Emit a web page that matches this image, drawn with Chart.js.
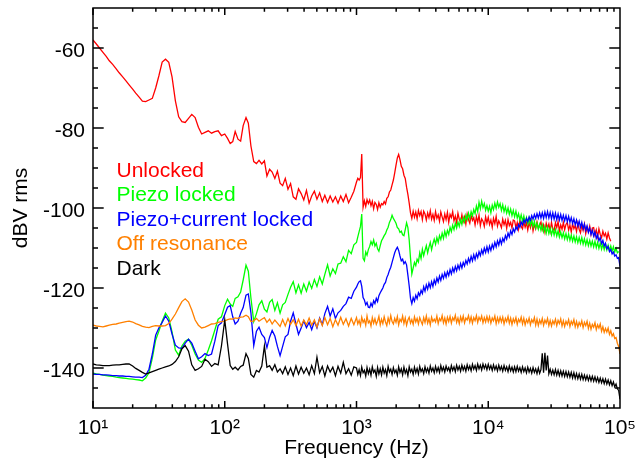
<!DOCTYPE html>
<html><head><meta charset="utf-8">
<script src="https://cdn.jsdelivr.net/npm/chart.js@4.4.1/dist/chart.umd.min.js"></script>
<style>html,body{margin:0;padding:0;background:#fff}canvas{display:block}</style>
</head><body>
<canvas id="c" width="637" height="464"></canvas>
<script>
// Frequency grid (Hz): 10-100 Hz, 100-1000 Hz, 1-100 kHz
const freqHz = [
  10, 10.6, 11.2, 11.9, 12.6, 13.3, 14.1, 15, 15.8, 16.8,
  17.8, 18.8, 20, 21.1, 22.4, 23.7, 25.1, 26.6, 28.2, 29.9,
  31.6, 33.5, 35.5, 37.6, 39.8, 42.2, 44.7, 47.3, 50.1, 53.1,
  56.2, 59.6, 63.1, 66.8, 70.8, 75, 79.4, 84.1, 89.1, 94.4,
  100, 105, 110, 115, 120, 126, 132, 138, 145, 151,
  158, 166, 174, 182, 191, 200, 209, 219, 229, 240,
  251, 263, 275, 288, 302, 316, 331, 347, 363, 380,
  398, 417, 437, 457, 479, 501, 525, 550, 575, 603,
  631, 661, 692, 724, 759, 794, 832, 871, 912, 955,
  1000, 1023, 1047, 1072, 1096, 1122, 1148, 1175, 1202, 1230,
  1259, 1288, 1318, 1349, 1380, 1413, 1445, 1479, 1514, 1549,
  1585, 1622, 1660, 1698, 1738, 1778, 1820, 1862, 1905, 1950,
  1995, 2042, 2089, 2138, 2188, 2239, 2291, 2344, 2399, 2455,
  2512, 2570, 2630, 2692, 2754, 2818, 2884, 2951, 3020, 3090,
  3162, 3236, 3311, 3388, 3467, 3548, 3631, 3715, 3802, 3890,
  3981, 4074, 4169, 4266, 4365, 4467, 4571, 4677, 4786, 4898,
  5012, 5129, 5248, 5370, 5495, 5623, 5754, 5888, 6026, 6166,
  6310, 6457, 6607, 6761, 6918, 7079, 7244, 7413, 7586, 7762,
  7943, 8128, 8318, 8511, 8710, 8913, 9120, 9333, 9550, 9772,
  10000, 10230, 10470, 10720, 10960, 11220, 11480, 11750, 12020, 12300,
  12590, 12880, 13180, 13490, 13800, 14130, 14450, 14790, 15140, 15490,
  15850, 16220, 16600, 16980, 17380, 17780, 18200, 18620, 19050, 19500,
  19950, 20420, 20890, 21380, 21880, 22390, 22910, 23440, 23990, 24550,
  25120, 25700, 26300, 26920, 27540, 28180, 28840, 29510, 30200, 30900,
  31620, 32360, 33110, 33880, 34670, 35480, 36310, 37150, 38020, 38900,
  39810, 40740, 41690, 42660, 43650, 44670, 45710, 46770, 47860, 48980,
  50120, 51290, 52480, 53700, 54950, 56230, 57540, 58880, 60260, 61660,
  63100, 64570, 66070, 67610, 69180, 70790, 72440, 74130, 75860, 77620,
  79430, 81280, 83180, 85110, 87100, 89130, 91200, 93330, 95500, 97720,
  100000
];

const unlockedDb = [
  -58.0, -59.0, -60.0, -61.1, -62.1, -63.2, -64.1, -65.2, -66.2, -67.2,
  -68.2, -69.2, -70.3, -71.3, -72.3, -73.3, -73.4, -73.0, -72.6, -70.0,
  -67.0, -63.5, -62.8, -63.6, -67.2, -73.2, -77.2, -78.4, -78.6, -77.6,
  -76.6, -77.4, -79.8, -81.5, -81.1, -80.7, -81.3, -80.9, -80.7, -81.9,
  -81.5, -82.6, -83.9, -83.4, -80.9, -82.8, -83.3, -79.4, -77.4, -78.8,
  -84.5, -88.4, -88.9, -88.1, -89.0, -88.2, -92.0, -90.3, -91.0, -92.6,
  -90.8, -93.8, -94.4, -92.6, -95.3, -93.9, -97.2, -97.8, -95.2, -96.4,
  -98.0, -95.6, -98.8, -97.0, -95.8, -97.8, -96.2, -98.4, -96.8, -98.6,
  -97.0, -98.5, -97.2, -98.8, -97.0, -98.4, -96.6, -98.7, -97.3, -95.8,
  -93.5, -92.6, -93.0, -92.4, -86.5, -99.8, -98.2, -99.6, -97.9, -98.9,
  -98.0, -99.4, -98.3, -100.2, -98.6, -99.1, -100.4, -98.7, -99.8, -98.9,
  -99.2, -98.4, -99.0, -97.6, -97.2, -96.0, -95.5, -94.2, -93.0, -91.2,
  -89.3, -87.5, -86.6, -87.9, -89.6, -90.2, -91.8, -92.6, -94.8, -96.6,
  -98.8, -101.2, -102.6, -100.8, -102.3, -101.0, -102.7, -100.6, -101.9, -100.9,
  -102.9, -100.8, -101.5, -103.0, -101.2, -102.4, -100.7, -102.8, -101.6, -103.1,
  -100.9, -102.6, -101.7, -103.3, -101.0, -102.2, -103.4, -101.5, -102.9, -101.1,
  -103.6, -101.6, -102.4, -100.9, -103.2, -102.0, -103.7, -101.3, -102.8, -103.5,
  -101.7, -103.4, -102.2, -104.0, -101.5, -102.9, -103.8, -101.9, -103.1, -102.4,
  -104.2, -102.1, -103.6, -101.8, -104.4, -102.7, -103.3, -104.6, -102.2, -103.8,
  -102.3, -104.1, -103.0, -104.8, -102.6, -103.9, -102.1, -104.5, -103.2, -104.0,
  -104.9, -102.8, -104.2, -103.1, -105.1, -102.9, -104.4, -103.6, -105.0, -103.0,
  -103.2, -104.9, -103.6, -105.3, -103.0, -104.6, -105.2, -103.4, -104.8, -103.7,
  -105.5, -103.6, -104.9, -103.3, -105.7, -104.1, -105.2, -103.5, -105.0, -104.3,
  -103.5, -105.4, -104.2, -106.0, -103.8, -105.1, -104.0, -105.8, -103.6, -105.2,
  -105.6, -103.7, -104.9, -103.4, -105.7, -104.2, -105.3, -103.6, -105.4, -104.1,
  -103.6, -105.5, -104.3, -106.0, -103.9, -105.2, -104.4, -105.9, -103.8, -105.3,
  -106.2, -104.3, -105.6, -104.0, -106.4, -104.8, -105.9, -104.5, -106.6, -105.0,
  -104.9, -106.8, -105.5, -107.2, -105.2, -106.6, -107.4, -105.8, -107.0, -106.3,
  -107.8, -106.2, -107.5, -108.3, null, null, null, null, null, null,
  null
];

const piezoDb = [
  -141.3, -141.5, -141.6, -141.8, -141.9, -142.0, -142.1, -142.3, -142.4, -142.5,
  -142.6, -142.7, -142.8, -142.9, -143.0, -143.2, -142.5, -141.2, -137.5, -133.0,
  -130.8, -128.3, -126.3, -127.5, -131.0, -135.5, -136.8, -134.5, -133.3, -132.8,
  -134.3, -136.5, -138.0, -138.6, -137.6, -135.5, -133.2, -130.5, -127.8, -127.2,
  -124.4, -122.8, -124.0, -124.6, -122.6, -122.2, -121.0, -118.0, -114.3, -115.8,
  -122.5, -128.4, -126.4, -124.2, -123.2, -125.3, -126.0, -123.6, -122.9, -125.6,
  -123.7, -126.3, -124.2, -123.6, -121.6, -119.8, -118.4, -121.2, -119.2, -121.3,
  -119.0, -120.8, -118.5, -120.1, -117.9, -119.6, -117.2, -119.0, -116.6, -114.2,
  -117.0, -115.2, -116.4, -114.0, -113.8, -112.2, -113.4, -110.6, -111.4, -109.2,
  -108.6, -107.2, -105.9, -104.6, -101.5, -112.6, -113.2, -111.0, -111.8, -110.4,
  -109.6, -108.4, -109.2, -108.0, -109.5, -108.8, -110.2, -110.8, -109.4, -108.2,
  -107.6, -106.9, -106.4, -105.5, -104.8, -103.6, -102.9, -101.8, -102.6, -103.2,
  -103.8, -104.9, -105.2, -106.1, -105.8, -106.7, -106.9, -105.4, -103.7, -104.9,
  -108.0, -112.5, -116.5, -115.0, -113.6, -114.4, -112.8, -113.5, -111.2, -112.6,
  -110.3, -111.9, -110.6, -109.4, -111.2, -109.8, -108.6, -110.4, -108.9, -107.8,
  -109.1, -107.4, -108.6, -106.9, -107.9, -106.3, -107.6, -105.8, -107.1, -105.6,
  -106.6, -104.8, -105.9, -104.3, -105.4, -103.8, -105.0, -103.5, -104.6, -102.9,
  -104.1, -102.4, -103.5, -101.8, -102.9, -101.3, -102.6, -100.9, -102.0, -100.4,
  -101.4, -99.5, -100.9, -98.6, -100.2, -98.3, -99.9, -98.9, -100.6, -99.4,
  -100.8, -99.6, -101.2, -99.3, -100.4, -98.8, -100.1, -98.5, -99.8, -98.9,
  -100.6, -99.2, -100.9, -99.7, -101.3, -100.0, -101.6, -100.3, -101.9, -100.6,
  -102.2, -100.8, -102.5, -101.4, -103.0, -101.7, -103.3, -102.0, -103.6, -102.4,
  -104.0, -102.6, -104.3, -103.1, -104.7, -103.3, -105.0, -103.8, -105.3, -104.1,
  -105.6, -104.2, -105.9, -104.6, -106.3, -104.8, -106.4, -105.1, -106.7, -105.3,
  -106.8, -105.4, -107.0, -105.7, -107.3, -106.0, -107.4, -106.2, -107.7, -106.4,
  -107.9, -106.5, -108.1, -106.8, -108.3, -107.0, -108.5, -107.2, -108.7, -107.4,
  -108.8, -107.4, -109.0, -107.7, -109.2, -107.9, -109.4, -108.1, -109.5, -108.3,
  -109.7, -108.3, -109.9, -108.6, -110.1, -108.8, -110.3, -109.0, -110.4, -109.2,
  -110.5, -109.3, -110.6, -109.5, -110.8, -109.7, -111.0, -110.1, -111.2, -110.9,
  null
];

const piezoCurrentDb = [
  -141.5, -141.6, -141.6, -141.7, -141.7, -141.8, -141.9, -141.9, -142.0, -142.0,
  -142.1, -142.1, -142.2, -142.3, -142.3, -142.4, -141.8, -140.3, -136.5, -131.8,
  -130.0, -128.6, -127.0, -128.3, -131.5, -134.3, -135.0, -135.1, -133.8, -132.8,
  -133.8, -135.8, -137.7, -137.2, -136.4, -136.9, -136.5, -133.3, -129.4, -128.7,
  -126.6, -124.8, -124.4, -127.2, -129.0, -128.3, -126.3, -124.9, -121.8, -121.5,
  -126.2, -134.4, -130.8, -129.8, -131.6, -132.4, -134.9, -132.3, -130.6, -132.0,
  -134.6, -136.9, -134.6, -132.2, -131.6, -128.3, -126.2, -129.0, -131.6, -130.0,
  -128.2, -129.9, -128.6, -130.4, -128.3, -130.0, -127.5, -129.2, -126.4, -124.6,
  -127.0, -125.2, -127.6, -126.2, -125.6, -124.6, -123.9, -122.3, -122.6, -120.8,
  -119.8, -119.0, -118.4, -118.2, -119.6, -122.4, -123.0, -124.2, -123.6, -124.8,
  -124.9, -123.8, -124.6, -123.2, -123.9, -122.6, -123.4, -121.9, -121.2, -120.6,
  -120.0, -119.1, -118.6, -117.4, -116.6, -115.6, -114.8, -113.6, -112.4, -111.2,
  -110.4, -109.8, -110.6, -112.0, -113.2, -112.8, -113.9, -113.4, -114.2, -116.8,
  -119.5, -122.6, -123.9, -122.4, -123.3, -121.8, -122.7, -121.2, -121.9, -120.6,
  -121.4, -119.7, -120.8, -119.2, -120.3, -118.8, -119.9, -118.4, -119.6, -118.0,
  -119.0, -117.5, -118.5, -117.0, -118.1, -116.6, -117.6, -116.2, -117.3, -115.9,
  -116.9, -115.4, -116.5, -115.0, -116.0, -114.6, -115.7, -114.3, -115.3, -113.9,
  -115.0, -113.6, -114.5, -113.1, -114.0, -112.6, -113.6, -112.1, -113.2, -111.7,
  -112.9, -111.4, -112.4, -110.9, -111.9, -110.5, -111.5, -110.0, -111.1, -109.7,
  -111.0, -109.5, -110.6, -109.1, -110.1, -108.6, -109.7, -108.2, -109.3, -107.8,
  -109.0, -107.6, -108.4, -106.9, -107.8, -106.3, -107.2, -105.7, -106.6, -105.2,
  -106.0, -104.7, -105.4, -104.1, -104.8, -103.5, -104.2, -103.0, -103.7, -102.6,
  -103.4, -102.2, -103.1, -101.9, -102.8, -101.6, -102.6, -101.4, -102.5, -101.2,
  -102.5, -101.2, -102.6, -101.0, -102.4, -100.9, -102.5, -101.1, -102.7, -101.2,
  -102.8, -101.3, -102.9, -101.5, -103.0, -101.6, -103.1, -101.8, -103.2, -101.9,
  -103.4, -102.1, -103.6, -102.4, -103.9, -102.7, -104.2, -103.0, -104.5, -103.3,
  -104.8, -103.6, -105.2, -104.0, -105.6, -104.5, -106.1, -105.0, -106.6, -105.6,
  -107.0, -106.0, -107.6, -106.7, -108.2, -107.4, -108.9, -108.1, -109.5, -108.8,
  -110.2, -109.6, -110.9, -110.4, -111.5, -111.0, -112.0, -111.7, -112.6, -112.4,
  -114.6
];

const offResonanceDb = [
  -129.3, -129.5, -129.6, -129.7, -129.5, -129.3, -129.1, -129.0, -128.8, -128.6,
  -128.4, -128.3, -128.5, -128.9, -129.2, -129.6, -129.8, -129.9, -129.6, -129.4,
  -129.5, -129.5, -129.4, -128.9, -127.8, -126.5, -124.9, -123.4, -122.7, -123.5,
  -125.5, -128.0, -129.3, -130.0, -129.8, -129.4, -129.0, -128.9, -128.6, -128.4,
  -128.2, -127.9, -127.7, -127.8, -127.5, -127.6, -127.3, -127.2, -126.8, -127.2,
  -128.4, -128.2, -127.6, -128.3, -127.8, -127.4, -128.6, -127.8, -129.0, -128.0,
  -128.8, -129.6, -127.9, -129.5, -127.6, -129.1, -127.9, -129.4, -127.8, -129.5,
  -128.0, -129.2, -127.5, -129.3, -128.0, -129.8, -127.7, -129.4, -127.4, -129.2,
  -127.6, -129.7, -127.9, -129.3, -127.3, -129.1, -127.7, -129.5, -127.6, -129.2,
  -127.4, -129.0, -128.1, -129.4, -127.3, -128.6, -127.9, -129.3, -127.0, -128.7,
  -128.2, -129.5, -127.4, -128.8, -127.7, -129.1, -128.3, -127.1, -129.2, -127.8,
  -128.9, -127.2, -128.5, -129.4, -127.5, -128.7, -126.9, -128.4, -129.0, -127.6,
  -128.6, -127.1, -129.2, -127.8, -128.4, -127.0, -128.9, -127.5, -129.3, -128.0,
  -127.3, -128.8, -127.9, -129.1, -127.2, -128.5, -127.6, -129.0, -127.4, -128.3,
  -129.1, -127.4, -128.6, -127.0, -128.8, -127.7, -129.2, -127.3, -128.4, -127.8,
  -128.5, -127.0, -128.9, -127.6, -128.2, -126.9, -128.7, -127.5, -129.0, -127.3,
  -128.4, -127.1, -128.8, -127.4, -128.1, -126.8, -128.6, -127.5, -128.9, -127.2,
  -128.3, -127.0, -128.7, -127.5, -128.0, -126.9, -128.5, -127.2, -128.8, -127.4,
  -128.2, -126.9, -128.6, -127.3, -128.1, -127.0, -128.7, -127.4, -128.5, -127.1,
  -128.4, -127.2, -128.8, -127.5, -128.2, -127.0, -128.9, -127.4, -128.6, -127.3,
  -128.5, -127.3, -129.0, -127.6, -128.4, -127.1, -128.8, -127.5, -129.1, -127.7,
  -128.6, -127.4, -129.1, -127.8, -128.5, -127.3, -129.0, -127.6, -129.2, -127.9,
  -128.7, -127.5, -129.2, -127.9, -128.6, -127.4, -129.3, -127.8, -129.4, -128.0,
  -128.9, -127.6, -129.3, -128.0, -128.8, -127.6, -129.4, -128.1, -129.5, -128.2,
  -129.0, -127.8, -129.4, -128.1, -128.9, -127.7, -129.5, -128.2, -129.6, -128.3,
  -129.1, -127.9, -129.6, -128.3, -129.1, -127.9, -129.7, -128.4, -129.8, -128.6,
  -129.4, -128.2, -129.9, -128.6, -129.4, -128.3, -130.1, -128.8, -130.3, -129.1,
  -129.8, -128.7, -130.4, -129.2, -130.0, -129.0, -130.8, -129.7, -131.1, -130.1,
  -131.0, -130.0, -131.6, -130.7, -132.0, -131.4, -132.6, -132.4, -133.8, -134.6,
  -136.5
];

const darkDb = [
  -139.0, -139.2, -139.3, -139.4, -139.4, -139.4, -139.3, -139.2, -139.2, -139.1,
  -139.0, -139.0, -139.5, -140.1, -140.6, -141.1, -141.5, -141.2, -140.9, -140.6,
  -140.3, -140.0, -139.7, -139.5, -139.1, -138.4, -137.2, -135.2, -134.4, -135.8,
  -139.2, -140.6, -140.2, -139.6, -137.8, -138.4, -139.6, -138.9, -139.2, -134.5,
  -128.0, -134.0, -139.4, -140.3, -139.8, -140.5, -139.6, -139.3, -136.4, -137.6,
  -141.6, -142.3, -140.6, -141.0, -139.5, -134.5, -139.8, -139.4, -140.6, -139.2,
  -141.0, -140.2, -141.4, -139.7, -141.6, -140.0, -141.9, -139.5, -141.5, -139.8,
  -141.3, -140.0, -141.7, -139.4, -141.4, -137.3, -141.2, -139.6, -142.0, -139.5,
  -141.0, -139.8, -141.9, -139.6, -141.3, -138.6, -141.4, -140.2, -141.8, -139.7,
  -140.0, -141.6, -140.4, -141.9, -139.8, -141.2, -140.6, -142.0, -139.9, -141.4,
  -140.3, -141.8, -139.7, -141.1, -140.5, -142.1, -139.9, -141.5, -140.2, -141.7,
  -139.8, -141.3, -140.4, -141.9, -139.6, -141.0, -140.3, -141.6, -139.9, -141.2,
  -140.5, -141.8, -139.7, -141.1, -140.2, -141.7, -139.8, -141.3, -140.4, -141.9,
  -139.7, -141.0, -140.3, -141.6, -139.8, -141.2, -140.1, -141.5, -139.6, -140.9,
  -140.2, -141.4, -139.7, -141.0, -140.1, -141.3, -139.5, -140.8, -140.0, -141.2,
  -139.6, -140.9, -139.9, -141.1, -139.4, -140.7, -139.8, -141.0, -139.5, -140.6,
  -139.9, -141.0, -139.4, -140.6, -139.7, -140.9, -139.3, -140.5, -139.6, -140.8,
  -139.3, -140.5, -139.6, -140.8, -139.2, -140.4, -139.5, -140.7, -139.1, -140.3,
  -139.4, -140.6, -139.0, -140.2, -139.3, -140.5, -139.0, -140.1, -139.2, -140.4,
  -139.1, -140.3, -139.4, -140.6, -139.2, -140.4, -139.5, -140.7, -139.3, -140.5,
  -139.6, -140.8, -139.4, -140.6, -139.7, -140.9, -139.5, -140.7, -139.8, -141.0,
  -139.7, -140.9, -139.6, -140.8, -139.9, -141.1, -139.7, -140.9, -140.0, -141.2,
  -139.8, -141.0, -140.1, -141.3, -139.9, -141.1, -140.2, -141.4, -140.0, -141.3,
  -140.4, -136.3, -141.2, -136.2, -140.6, -136.9, -141.4, -140.3, -141.6, -140.5,
  -141.7, -140.4, -141.8, -140.6, -141.9, -140.7, -142.0, -140.8, -142.1, -140.9,
  -142.2, -141.0, -142.3, -141.1, -142.5, -141.2, -142.6, -141.4, -142.7, -141.5,
  -142.8, -141.6, -142.9, -141.8, -143.0, -141.9, -143.1, -142.0, -143.2, -142.1,
  -143.3, -142.2, -143.4, -142.4, -143.6, -142.5, -143.7, -142.7, -143.9, -142.8,
  -144.0, -143.0, -144.2, -143.2, -144.4, -143.5, -144.7, -144.0, -145.2, -145.6,
  -147.8
];

const seriesNames = ['Unlocked', 'Piezo locked', 'Piezo+current locked', 'Off resonance', 'Dark'];
const seriesColors = ['#ff0000', '#00ff00', '#0000ff', '#ff8000', '#000000'];
const xTickValues = [10, 100, 1000, 10000, 100000];
const xTickLabels = ['10\u00b9', '10\u00b2', '10\u00b3', '10\u2074', '10\u2075'];
const yTickValues = [-140, -120, -100, -80, -60];
const yTickLabels = ['-140', '-120', '-100', '-80', '-60'];
const xTitle = 'Frequency (Hz)';
const yTitle = 'dBV rms';

const seriesValues = [unlockedDb, piezoDb, piezoCurrentDb, offResonanceDb, darkDb];
const FONT = 'Liberation Sans, Arial, Helvetica, sans-serif';

function toPoints(arr) {
  const pts = [];
  freqHz.forEach((f, i) => { if (arr[i] !== null && arr[i] !== undefined) pts.push({x: f, y: arr[i]}); });
  return pts;
}

// Chart.js draws dataset 0 last (on top): list in reverse so that Dark is on top
const datasets = [];
for (let s = seriesNames.length - 1; s >= 0; s--) {
  datasets.push({
    label: seriesNames[s],
    data: toPoints(seriesValues[s]),
    borderColor: seriesColors[s],
    backgroundColor: seriesColors[s],
    showLine: true,
    pointRadius: 0,
    borderWidth: 1.3,
    tension: 0,
    fill: false
  });
}

const framePlugin = {
  id: 'frame',
  afterDatasetsDraw(chart) {
    const {ctx, chartArea: a, scales: {x, y}} = chart;
    ctx.save();
    ctx.strokeStyle = '#000';
    ctx.lineWidth = 1.5;
    ctx.strokeRect(a.left, a.top, a.right - a.left, a.bottom - a.top);
    ctx.beginPath();
    for (let d = 10; d < 100000; d *= 10) {
      for (let k = 1; k < 10; k++) {
        const px = x.getPixelForValue(d * k);
        const len = k === 1 ? 7 : 3.7;
        ctx.moveTo(px, a.bottom); ctx.lineTo(px, a.bottom - len);
        ctx.moveTo(px, a.top); ctx.lineTo(px, a.top + len);
      }
    }
    for (let v = -145; v <= -55; v += 5) {
      const py = y.getPixelForValue(v);
      const len = yTickValues.includes(v) ? 10.7 : 5;
      ctx.moveTo(a.left, py); ctx.lineTo(a.left + len, py);
      ctx.moveTo(a.right, py); ctx.lineTo(a.right - len, py);
    }
    ctx.stroke();
    ctx.restore();
  }
};

const legendTextPlugin = {
  id: 'legendText',
  afterDraw(chart) {
    const {ctx, chartArea: a} = chart;
    ctx.save();
    ctx.font = '21px ' + FONT;
    ctx.textAlign = 'left';
    ctx.textBaseline = 'alphabetic';
    seriesNames.forEach((n, i) => {
      ctx.fillStyle = seriesColors[i];
      ctx.fillText(n, a.left + 23.5, a.top + 168.7 + i * 24.5);
    });
    ctx.restore();
  }
};

new Chart(document.getElementById('c'), {
  type: 'scatter',
  data: {datasets},
  options: {
    responsive: false,
    animation: false,
    devicePixelRatio: 1,
    layout: {padding: {left: 0, right: 17, top: 8, bottom: 0}},
    plugins: {legend: {display: false}, tooltip: {enabled: false}},
    scales: {
      x: {
        type: 'logarithmic', min: 10, max: 100000, position: 'bottom',
        afterBuildTicks: s => { s.ticks = xTickValues.map(v => ({value: v, major: true})); },
        afterFit: s => { s.height = 56; s.paddingLeft = 0; s.paddingRight = 0; },
        grid: {display: false, drawTicks: false},
        border: {display: false},
        ticks: {autoSkip: false, maxRotation: 0, minRotation: 0, padding: 8, color: '#000',
          font: {family: FONT, size: 21},
          callback: (v, i) => xTickLabels[i]},
        title: {display: true, text: xTitle, color: '#000', font: {family: FONT, size: 21}, padding: {top: 0, bottom: 3}}
      },
      y: {
        type: 'linear', min: -150, max: -50, position: 'left',
        afterBuildTicks: s => { s.ticks = yTickValues.map(v => ({value: v})); },
        afterFit: s => { s.width = 93; s.paddingTop = 0; s.paddingBottom = 0; },
        grid: {display: false, drawTicks: false},
        border: {display: false},
        ticks: {autoSkip: false, padding: 8, labelOffset: 3, color: '#000',
          font: {family: FONT, size: 21},
          callback: (v, i) => yTickLabels[i]},
        title: {display: true, text: yTitle, color: '#000', font: {family: FONT, size: 21}, padding: {top: 8.5, bottom: 0}}
      }
    }
  },
  plugins: [framePlugin, legendTextPlugin]
});
</script>
</body></html>
